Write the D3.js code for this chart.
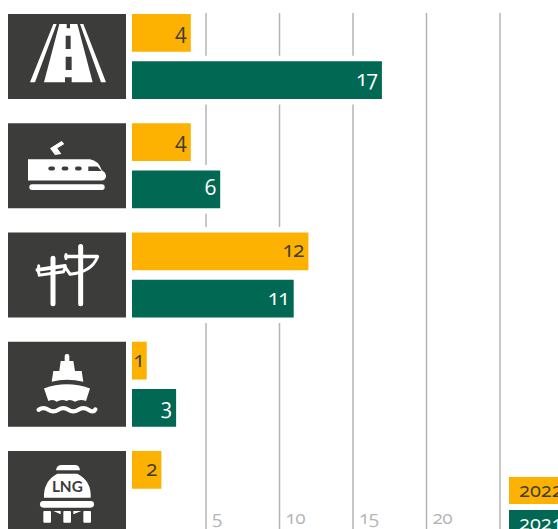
<!DOCTYPE html>
<html>
<head>
<meta charset="utf-8">
<script src="https://cdn.jsdelivr.net/npm/d3@7"></script>
<style>
  html, body { margin: 0; padding: 0; background: #fff; overflow: hidden; }
  svg { display: block; }
  text { font-family: "Open Sans", sans-serif; font-feature-settings: "onum"; }
</style>
</head>
<body>
<svg id="chart" width="558" height="529"></svg>
<script>
// values
var categories = ['road', 'rail', 'power', 'port', 'lng'];
var years = ['2022', '2021'];
var values2022 = [4, 4, 12, 1, 2];
var values2021 = [17, 6, 11, 3, null];
var gridValues = [5, 10, 15, 20, 25];
var tickLabels = ['5', '10', '15', '20', ''];

var width = 558;
var height = 529;

var colors = { '2022': '#fdb100', '2021': '#006853' };
var labelColors = { '2022': '#3c3c3a', '2021': '#ffffff' };
var tile = '#3c3c3a';

var svg = d3.select('#chart');

var x = d3.scaleLinear().domain([0, 25]).range([132, 499.5]);

// 109.25 px per group, 85 of it filled
var y = d3.scaleBand()
  .domain(categories)
  .range([14, 14 + 109.25 * 5 - 24.25])
  .paddingInner(24.25 / 109.25);

var ySeries = d3.scaleBand()
  .domain(years)
  .range([0, y.bandwidth()])
  .paddingInner(9.5 / 47.25);

// grid + tick labels
var axis = d3.axisBottom(x)
  .tickValues(gridValues)
  .tickSize(-517)
  .tickFormat((d, i) => tickLabels[i]);

var axisG = svg.append('g')
  .attr('transform', 'translate(0,' + (height + 1) + ')')
  .call(axis);

axisG.select('.domain').remove();
axisG.selectAll('line').attr('stroke', '#b5b5b5').attr('stroke-width', 1.5);
axisG.selectAll('text')
  .attr('text-anchor', 'start')
  .attr('x', 6)
  .attr('y', -6)
  .attr('dy', 0)
  .attr('fill', '#b5b5b5')
  .style('font-size', '19px')
  .style('letter-spacing', '-0.5px');

// bars
var rows = [];
categories.forEach((c, i) => {
  rows.push({ cat: c, year: '2022', value: values2022[i] });
  rows.push({ cat: c, year: '2021', value: values2021[i] });
});
rows = rows.filter(d => d.value !== null);

// white halo knocks the grid out around each bar
svg.append('g').selectAll('rect')
  .data(rows)
  .enter().append('rect')
  .attr('x', x(0))
  .attr('y', d => y(d.cat) + ySeries(d.year))
  .attr('width', d => x(d.value) - x(0))
  .attr('height', ySeries.bandwidth())
  .attr('fill', '#fff')
  .attr('stroke', '#fff')
  .attr('stroke-width', 11);

svg.append('g').selectAll('rect')
  .data(rows)
  .enter().append('rect')
  .attr('x', x(0))
  .attr('y', d => y(d.cat) + ySeries(d.year))
  .attr('width', d => x(d.value) - x(0))
  .attr('height', ySeries.bandwidth())
  .attr('fill', d => colors[d.year]);

svg.append('g').selectAll('text')
  .data(rows)
  .enter().append('text')
  .attr('x', d => x(d.value) - (d.value === 1 ? 3 : 5))
  .attr('y', d => y(d.cat) + ySeries(d.year) + ySeries.bandwidth() / 2 + 6)
  .attr('text-anchor', 'end')
  .attr('fill', d => labelColors[d.year])
  .style('font-size', '21px')
  .style('font-weight', 500)
  .style('letter-spacing', '-1px')
  .text(d => d.value);

// icon tiles, paths are in 3x px of a 95x85 box
var icons = {
  road: function(g) {
    g.append('path').attr('fill-rule', 'evenodd').attr('d',
      'M30,205L100,30L110,30L45,205Z M180,30L190,30L258,205L243,205Z ' +
      'M118,30L140,30L140,43L150,43L150,30L172,30L218,205L155,205L155,190L135,190L135,205L72,205Z ' +
      'M137,65L152,65L152,105L137,105Z M137,128L155,128L155,168L137,168Z');
  },
  rail: function(g) {
    g.append('path').attr('d', 'M24,108L210,108Q235,112 245,140Q258,148 258,158Q258,172 240,172L24,172Z');
    g.append('path').attr('d', 'M90,75L125,53L133,62L112,75L124,92L105,95Z');
    g.append('rect').attr('x', 28).attr('y', 183).attr('width', 226).attr('height', 17).attr('rx', 8);
    [85, 125, 165].forEach(w => {
      g.append('rect').attr('x', w).attr('y', 130).attr('width', 20).attr('height', 12).attr('rx', 6).attr('fill', tile);
    });
    g.append('path').attr('fill', tile).attr('d', 'M205,130L232,130L245,143L205,143Z');
  },
  power: function(g) {
    var p = g.append('g').attr('fill', 'none').attr('stroke', '#fff').attr('stroke-linecap', 'round');
    p.append('path').attr('stroke-width', 15).attr('d', 'M99,77V214 M182,42V214');
    p.append('path').attr('stroke-width', 11).attr('d', 'M138,72H232 M52,112L135,100');
    p.append('path').attr('stroke-width', 9).attr('d',
      'M232,74Q215,118 150,125L136,105L130,118L58,128L54,112 M138,66V78 M56,100V112');
  },
  port: function(g) {
    g.append('rect').attr('x', 134).attr('y', 37).attr('width', 14).attr('height', 28).attr('rx', 6);
    g.append('path').attr('d', 'M122,58L160,58L165,88L185,88L190,120Q140,108 95,120L100,88L118,88Z');
    g.append('path').attr('d',
      'M72,140Q140,115 210,140L198,178Q180,170 165,180Q150,170 140,178Q125,170 110,180Q100,170 85,178Z');
    g.append('path').attr('fill', 'none').attr('stroke', '#fff').attr('stroke-width', 13).attr('stroke-linecap', 'round')
      .attr('d', 'M56,204Q70,194 85,204T115,204T145,204T175,204T205,204T226,203');
  },
  lng: function(g) {
    g.append('path').attr('d', 'M108,58Q110,42 125,42L165,42Q178,42 180,58Z');
    g.append('path').attr('d', 'M72,140Q70,90 112,68L172,68Q215,90 212,140Z');
    g.append('rect').attr('x', 60).attr('y', 150).attr('width', 162).attr('height', 20).attr('rx', 10);
    [70, 130, 190].forEach(l => {
      g.append('rect').attr('x', l).attr('y', 180).attr('width', 23).attr('height', 35).attr('rx', 3);
    });
    g.append('path').attr('d', 'M100,180L122,180L122,190Z M160,180L184,180L160,190Z');
    g.append('text')
      .attr('x', 142).attr('y', 124)
      .attr('text-anchor', 'middle')
      .attr('fill', tile)
      .style('font-family', 'Lato, sans-serif')
      .style('font-weight', 700)
      .style('font-size', '46px')
      .text('LNG');
  }
};

categories.forEach(c => {
  svg.append('rect')
    .attr('x', 8)
    .attr('y', y(c))
    .attr('width', 118)
    .attr('height', y.bandwidth())
    .attr('fill', tile);
  var g = svg.append('g')
    .attr('transform', 'translate(20,' + y(c) + ') scale(' + (1 / 3) + ')')
    .attr('fill', '#fff');
  icons[c](g);
});

// legend, runs off the right edge like the original
var legendY = d3.scaleBand().domain(years).range([477, 537]).paddingInner(6 / 33);

var legend = svg.append('g').selectAll('g')
  .data(years)
  .enter().append('g')
  .attr('transform', d => 'translate(509,' + legendY(d) + ')');

legend.append('rect')
  .attr('width', 60)
  .attr('height', legendY.bandwidth())
  .attr('fill', d => colors[d]);

legend.append('text')
  .attr('x', 10)
  .attr('y', 20)
  .attr('fill', d => labelColors[d])
  .style('font-size', '20px')
  .style('font-weight', 500)
  .text(d => d);
</script>
</body>
</html>
